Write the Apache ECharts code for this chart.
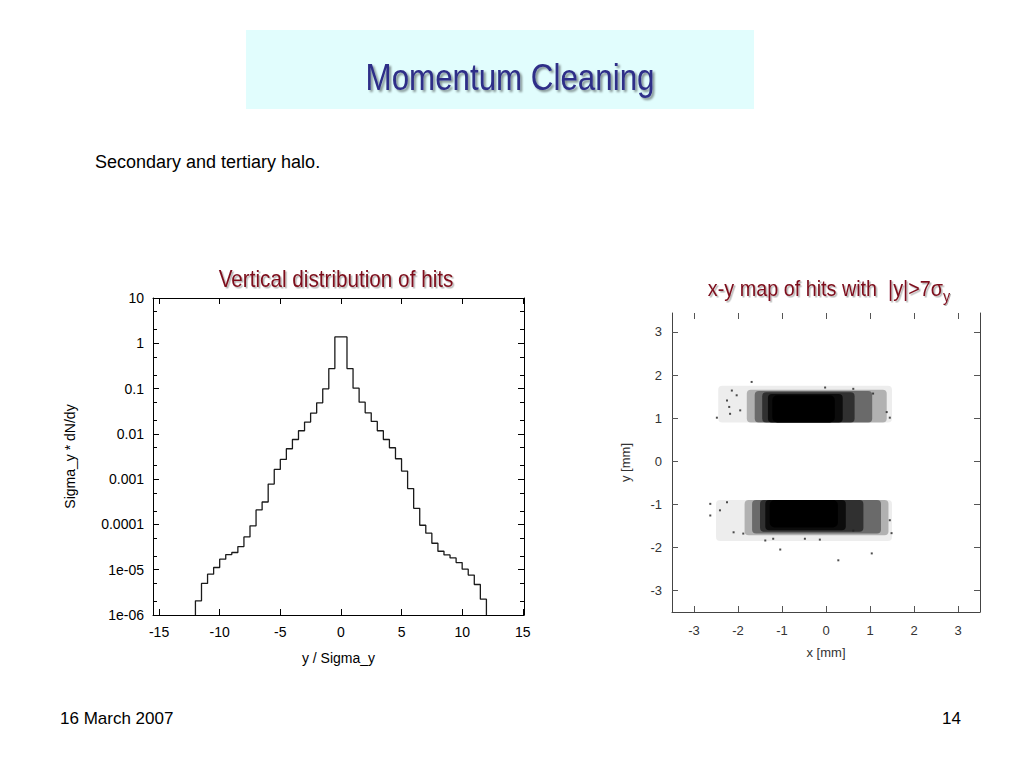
<!DOCTYPE html>
<html><head><meta charset="utf-8">
<script src="https://cdn.jsdelivr.net/npm/echarts@6/dist/echarts.min.js"></script>
<style>html,body{margin:0;padding:0;background:#fff}#c{width:1024px;height:768px}</style>
</head><body><div id="c"></div>
<script>
// ---------- Left chart: vertical distribution of hits (histogram, 0.5 sigma bins) ----------
const binLeftEdges = [-12,-11.5,-11,-10.5,-10,-9.5,-9,-8.5,-8,-7.5,-7,-6.5,-6,-5.5,-5,-4.5,-4,-3.5,-3,-2.5,-2,-1.5,-1,-0.5,
  0,0.5,1,1.5,2,2.5,3,3.5,4,4.5,5,5.5,6,6.5,7,7.5,8,8.5,9,9.5,10,10.5,11,11.5];
const histRightEnd = 12;
const binValues = [2.06e-6,4.97e-6,7.98e-6,1.12e-5,1.71e-5,2.16e-5,2.4e-5,3.25e-5,5.3e-5,9.3e-5,2.09e-4,3.13e-4,
  7.8e-4,1.64e-3,2.73e-3,4.69e-3,7.5e-3,0.0117,0.0182,0.0287,0.0485,0.0986,0.277,1.38,
  1.38,0.277,0.102,0.05,0.0292,0.0188,0.0117,0.0075,0.00494,0.00282,0.00151,6.2e-4,2.27e-4,9.6e-5,
  6.4e-5,3.84e-5,2.56e-5,2.12e-5,1.82e-5,1.44e-5,1.03e-5,7.6e-6,4.72e-6,2.24e-6];
const histFloor = 1e-6;
const leftXTicks = [-15,-10,-5,0,5,10,15];
const leftYTickLabels = ['1e-06','1e-05','0.0001','0.001','0.01','0.1','1','10'];
const leftYMinorMultipliers = [2,5];

// ---------- Right chart: x-y map of hits with |y| > 7 sigma_y ----------
// [x0, x1, y0, y1, relative hit density] (mm)
const upperBlobLayers = [
  [-2.45,1.5,0.9,1.75,0.07],
  [-1.8,1.38,0.9,1.66,0.25],
  [-1.62,1.05,0.9,1.63,0.4],
  [-1.45,0.65,0.9,1.6,0.55],
  [-1.32,0.38,0.9,1.56,0.75],
  [-1.22,0.2,0.9,1.53,1.0]
];
const lowerBlobLayers = [
  [-2.5,1.5,-1.85,-0.9,0.07],
  [-1.85,1.42,-1.72,-0.9,0.25],
  [-1.68,1.25,-1.68,-0.9,0.4],
  [-1.5,0.85,-1.64,-0.9,0.55],
  [-1.38,0.45,-1.6,-0.9,0.75],
  [-1.28,0.27,-1.54,-0.9,1.0]
];
const isolatedHits = [
  [-1.69,1.84],[-2.14,1.64],[-2.03,1.53],[-2.25,1.41],[-2.48,1.01],[-2.18,1.10],[-1.95,1.18],[-2.2,1.26],
  [1.38,1.14],[1.45,1.01],[1.07,1.57],[0.62,1.68],[-0.02,1.71],
  [-2.63,-0.99],[-2.63,-1.26],[-2.41,-1.14],[-2.25,-0.95],[-2.1,-1.65],[-1.88,-1.68],[-1.38,-1.84],
  [-1.2,-1.8],[-1.04,-2.05],[-0.14,-1.82],[0.28,-2.3],[1.04,-2.14],[1.49,-1.67],[1.45,-1.37],[0.62,-1.61],[-0.48,-1.8]
];
const rightTicks = [-3,-2,-1,0,1,2,3];

// ---------- build ----------
const histData = [[binLeftEdges[0], histFloor]];
binLeftEdges.forEach((x, i) => histData.push([x, binValues[i]]));
histData.push([histRightEnd, histFloor]);

const minorLog = [];
for (let e = -6; e < 1; e++) leftYMinorMultipliers.forEach(m => minorLog.push(e + Math.log10(m)));

const FONT = '"Liberation Sans", Arial, sans-serif';
const blobLayers = upperBlobLayers.concat(lowerBlobLayers);

const chart = echarts.init(document.getElementById('c'), null, {renderer: 'svg', width: 1024, height: 768});

const axisLine = {show: true, onZero: false, lineStyle: {color: '#000', width: 1}};
const axisLineR = {show: true, onZero: false, lineStyle: {color: '#444', width: 1}};
const noLine = {show: false, onZero: false};

chart.setOption({
  animation: false,
  backgroundColor: '#fff',
  grid: [
    {left: 153, top: 298, width: 371, height: 317},
    {left: 672, top: 313, width: 308, height: 299}
  ],
  xAxis: [
    {gridIndex: 0, type: 'value', position: 'bottom', min: -15.5, max: 15.1,
      axisLine: axisLine, splitLine: {show: false},
      axisTick: {inside: true, length: 6, customValues: leftXTicks, lineStyle: {color: '#000'}},
      axisLabel: {customValues: leftXTicks, fontSize: 14, color: '#000', fontFamily: FONT, margin: 10},
      name: 'y / Sigma_y', nameLocation: 'middle', nameGap: 36,
      nameTextStyle: {fontSize: 14, color: '#000', fontFamily: FONT}},
    {gridIndex: 0, type: 'value', position: 'top', min: -15.5, max: 15.1,
      axisLine: axisLine, splitLine: {show: false},
      axisTick: {inside: true, length: 6, customValues: leftXTicks, lineStyle: {color: '#000'}},
      axisLabel: {show: false}},
    {gridIndex: 1, type: 'value', position: 'bottom', min: -3.5, max: 3.5,
      axisLine: axisLineR, splitLine: {show: false},
      axisTick: {inside: true, length: 6, customValues: rightTicks, lineStyle: {color: '#555'}},
      axisLabel: {customValues: rightTicks, fontSize: 13, color: '#333', fontFamily: FONT, margin: 12},
      name: 'x [mm]', nameLocation: 'middle', nameGap: 34,
      nameTextStyle: {fontSize: 13, color: '#333', fontFamily: FONT}},
    {gridIndex: 1, type: 'value', position: 'top', min: -3.5, max: 3.5,
      axisLine: noLine, splitLine: {show: false},
      axisTick: {inside: true, length: 6, customValues: rightTicks, lineStyle: {color: '#555'}},
      axisLabel: {show: false}}
  ],
  yAxis: [
    {gridIndex: 0, type: 'log', logBase: 10, position: 'left', min: 1e-6, max: 10,
      axisLine: axisLine, splitLine: {show: false}, minorTick: {show: false},
      axisTick: {inside: true, length: 6, lineStyle: {color: '#000'}},
      axisLabel: {fontSize: 14, color: '#000', fontFamily: FONT, margin: 9,
        formatter: v => leftYTickLabels[Math.round(Math.log10(v)) + 6]},
      name: 'Sigma_y * dN/dy', nameLocation: 'middle', nameGap: 76, nameRotate: 90,
      nameTextStyle: {fontSize: 14, color: '#000', fontFamily: FONT}},
    {gridIndex: 0, type: 'log', logBase: 10, position: 'right', min: 1e-6, max: 10,
      axisLine: axisLine, splitLine: {show: false},
      axisTick: {inside: true, length: 6, lineStyle: {color: '#000'}},
      axisLabel: {show: false}},
    {gridIndex: 0, type: 'value', position: 'left', min: -6, max: 1,
      axisLine: noLine, splitLine: {show: false},
      axisTick: {inside: true, length: 4, customValues: minorLog, lineStyle: {color: '#000'}},
      axisLabel: {show: false}},
    {gridIndex: 0, type: 'value', position: 'right', min: -6, max: 1,
      axisLine: noLine, splitLine: {show: false},
      axisTick: {inside: true, length: 4, customValues: minorLog, lineStyle: {color: '#000'}},
      axisLabel: {show: false}},
    {gridIndex: 1, type: 'value', position: 'left', min: -3.5, max: 3.44,
      axisLine: axisLineR, splitLine: {show: false},
      axisTick: {inside: true, length: 6, customValues: rightTicks, lineStyle: {color: '#555'}},
      axisLabel: {customValues: rightTicks, fontSize: 13, color: '#333', fontFamily: FONT, margin: 10},
      name: 'y [mm]', nameLocation: 'middle', nameGap: 40, nameRotate: 90,
      nameTextStyle: {fontSize: 13, color: '#333', fontFamily: FONT}},
    {gridIndex: 1, type: 'value', position: 'right', min: -3.5, max: 3.44,
      axisLine: axisLineR, splitLine: {show: false},
      axisTick: {inside: true, length: 6, customValues: rightTicks, lineStyle: {color: '#555'}},
      axisLabel: {show: false}}
  ],
  series: [
    {type: 'line', xAxisIndex: 0, yAxisIndex: 0, step: 'end', data: histData, symbol: 'none',
      lineStyle: {color: '#1a1a1a', width: 1.3}, clip: true},
    {type: 'custom', xAxisIndex: 2, yAxisIndex: 4, data: blobLayers,
      renderItem: (params, api) => {
        const p0 = api.coord([api.value(0), api.value(3)]);
        const p1 = api.coord([api.value(1), api.value(2)]);
        const d = api.value(4);
        return {type: 'rect',
          shape: {x: p0[0], y: p0[1], width: p1[0] - p0[0], height: p1[1] - p0[1], r: d >= 1 ? 5 : 4},
          style: {fill: '#000', opacity: d}};
      }},
    {type: 'scatter', xAxisIndex: 2, yAxisIndex: 4, data: isolatedHits, symbol: 'rect', symbolSize: 2,
      itemStyle: {color: '#222'}}
  ],
  graphic: [
    {type: 'rect', shape: {x: 246, y: 30, width: 508, height: 79}, style: {fill: '#e1fdfd'}, z: -1},
    {type: 'text', x: 510, y: 77, scaleX: 0.87,
      style: {text: 'Momentum Cleaning', x: 0, y: 0, fontSize: 36, fontFamily: FONT, fill: '#2e2e88',
        align: 'center', verticalAlign: 'middle', textAlign: 'center', textVerticalAlign: 'middle',
        textShadowColor: 'rgba(0,0,0,0.45)', textShadowOffsetX: 2, textShadowOffsetY: 2, textShadowBlur: 2}},
    {type: 'text', x: 95, y: 162,
      style: {text: 'Secondary and tertiary halo.', x: 0, y: 0, fontSize: 18, fontFamily: FONT, fill: '#000',
        align: 'left', verticalAlign: 'middle', textAlign: 'left', textVerticalAlign: 'middle'}},
    {type: 'text', x: 336, y: 279, scaleX: 0.9,
      style: {text: 'Vertical distribution of hits', x: 0, y: 0, fontSize: 23, fontFamily: FONT, fill: '#7d0f1c',
        align: 'center', verticalAlign: 'middle', textAlign: 'center', textVerticalAlign: 'middle',
        textShadowColor: 'rgba(0,0,0,0.3)', textShadowOffsetX: 1.5, textShadowOffsetY: 1.5, textShadowBlur: 1.5}},
    {type: 'text', x: 943, y: 288, scaleX: 0.9,
      style: {text: 'x-y map of hits with  |y|>7σ', x: 0, y: 0, fontSize: 22, fontFamily: FONT, fill: '#7d0f1c',
        align: 'right', verticalAlign: 'middle', textAlign: 'right', textVerticalAlign: 'middle',
        textShadowColor: 'rgba(0,0,0,0.3)', textShadowOffsetX: 1.5, textShadowOffsetY: 1.5, textShadowBlur: 1.5}},
    {type: 'text', x: 943, y: 296, scaleX: 0.9,
      style: {text: 'y', x: 0, y: 0, fontSize: 16, fontFamily: FONT, fill: '#7d0f1c',
        align: 'left', verticalAlign: 'middle', textAlign: 'left', textVerticalAlign: 'middle',
        textShadowColor: 'rgba(0,0,0,0.3)', textShadowOffsetX: 1, textShadowOffsetY: 1, textShadowBlur: 1}},
    {type: 'text', x: 60, y: 718,
      style: {text: '16 March 2007', x: 0, y: 0, fontSize: 17, fontFamily: FONT, fill: '#000',
        align: 'left', verticalAlign: 'middle', textAlign: 'left', textVerticalAlign: 'middle'}},
    {type: 'text', x: 961, y: 718,
      style: {text: '14', x: 0, y: 0, fontSize: 17, fontFamily: FONT, fill: '#000',
        align: 'right', verticalAlign: 'middle', textAlign: 'right', textVerticalAlign: 'middle'}}
  ]
});
</script>
</body></html>
